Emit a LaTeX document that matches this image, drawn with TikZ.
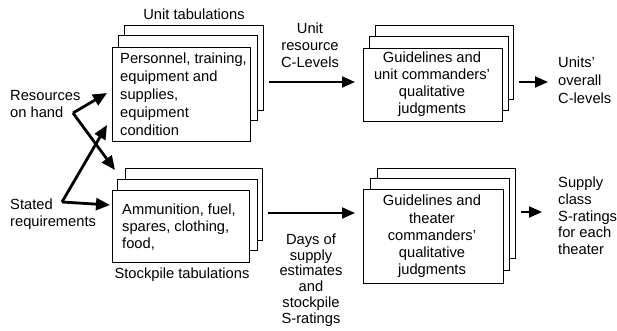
\documentclass[tikz,border=0pt]{standalone}
\usepackage{fontspec}
\setmainfont{Liberation Sans}
\usetikzlibrary{arrows.meta}

\begin{document}
\begin{tikzpicture}[x=1pt, y=-1pt,
  every node/.style={font=\fontsize{14.7}{17}\selectfont, inner sep=0pt},
  sheet/.style={draw, fill=white, line width=1.3pt, anchor=north west},
  lbl/.style={align=center},
  lbll/.style={align=left, anchor=west},
  conn/.style={line width=2pt, -{Triangle[length=13pt, width=11pt]}},
  feed/.style={line width=2.8pt, line join=miter, -{Triangle[length=14pt, width=12pt]}}
]
\useasboundingbox[fill=white] (0,0) rectangle (617,330);

% ---- unit tabulations stack ----
\node[sheet, minimum width=139pt, minimum height=85pt] (tlback) at (124,25) {};
\node[sheet, minimum width=139pt, minimum height=85pt] (tlmid) at (118,35) {};
\node[sheet, minimum width=138pt, minimum height=94pt] (tlfront) at (112,47) {};
\node[lbll, font=\fontsize{14.7}{18}\selectfont] (tltext) at (120,94)
  {Personnel, training,\\equipment and\\supplies,\\equipment\\condition};
\node[lbl] (tltitle) at (194,14) {Unit tabulations};

% ---- stockpile tabulations stack ----
\node[sheet, minimum width=137pt, minimum height=72pt] (blback) at (125,168) {};
\node[sheet, minimum width=140pt, minimum height=71pt] (blmid) at (117,179) {};
\node[sheet, minimum width=137pt, minimum height=72pt] (blfront) at (112,190) {};
\node[lbll] (bltext) at (122,227)
  {Ammunition, fuel,\\spares, clothing,\\food,};
\node[lbl] (bltitle) at (182,275) {Stockpile tabulations};

% ---- unit judgment stack ----
\node[sheet, minimum width=138pt, minimum height=74pt] (trback) at (375,25) {};
\node[sheet, minimum width=139pt, minimum height=74pt] (trmid) at (369,36) {};
\node[sheet, minimum width=139pt, minimum height=73pt] (trfront) at (363,48) {};
\node[lbl] (trtext) at (432,84.5)
  {Guidelines and\\unit commanders'\\qualitative\\judgments};

% ---- theater judgment stack ----
\node[sheet, minimum width=138pt, minimum height=90pt] (brback) at (377,168) {};
\node[sheet, minimum width=139pt, minimum height=92pt] (brmid) at (370,178) {};
\node[sheet, minimum width=140pt, minimum height=94pt] (brfront) at (363,189) {};
\node[lbl, font=\fontsize{14.7}{17.2}\selectfont] (brtext) at (432,236.5)
  {Guidelines and\\theater\\commanders'\\qualitative\\judgments};

% ---- inputs ----
\node[lbll] (onhand) at (10,104) {Resources\\on hand};
\node[lbll] (stated) at (10,214) {Stated\\requirements};

% ---- intermediate and final outputs ----
\node[lbl] (clev) at (310,45) {Unit\\resource\\C-Levels};
\node[lbl, font=\fontsize{14.7}{15.8}\selectfont] (days) at (311,280)
  {Days of\\supply\\estimates\\and\\stockpile\\S-ratings};
\node[lbll, font=\fontsize{14.7}{18}\selectfont] (units) at (558,80) {Units'\\overall\\C-levels};
\node[lbll, font=\fontsize{14.7}{16.7}\selectfont] (supply) at (558,216) {Supply\\class\\S-ratings\\for each\\theater};

% ---- connectors between stacks ----
\draw[conn] ([xshift=5pt]tlback.east |- 0,82) -- ([xshift=-8pt]trfront.west |- 0,82);
\draw[conn] ([xshift=5pt]trback.east |- 0,82) -- ([xshift=-10pt]units.west |- 0,82);
\draw[conn] ([xshift=5pt]blback.east |- 0,213) -- ([xshift=-8pt]brfront.west |- 0,213);
\draw[conn] ([xshift=5pt]brback.east |- 0,212) -- ([xshift=-16pt]supply.west |- 0,212);

% ---- crossed input arrows ----
\coordinate (rv) at (73,113);
\coordinate (sv) at (62,202);
\coordinate (rtop) at (107,93);
\coordinate (rbot) at (115,170);
\coordinate (stop) at (107,125);
\coordinate (sbot) at (110,205);
\draw[feed] (rv) -- (rtop);
\draw[feed] (rv) -- (rbot);
\draw[feed] (sv) -- (stop);
\draw[feed] (sv) -- (sbot);

\end{tikzpicture}
\end{document}
